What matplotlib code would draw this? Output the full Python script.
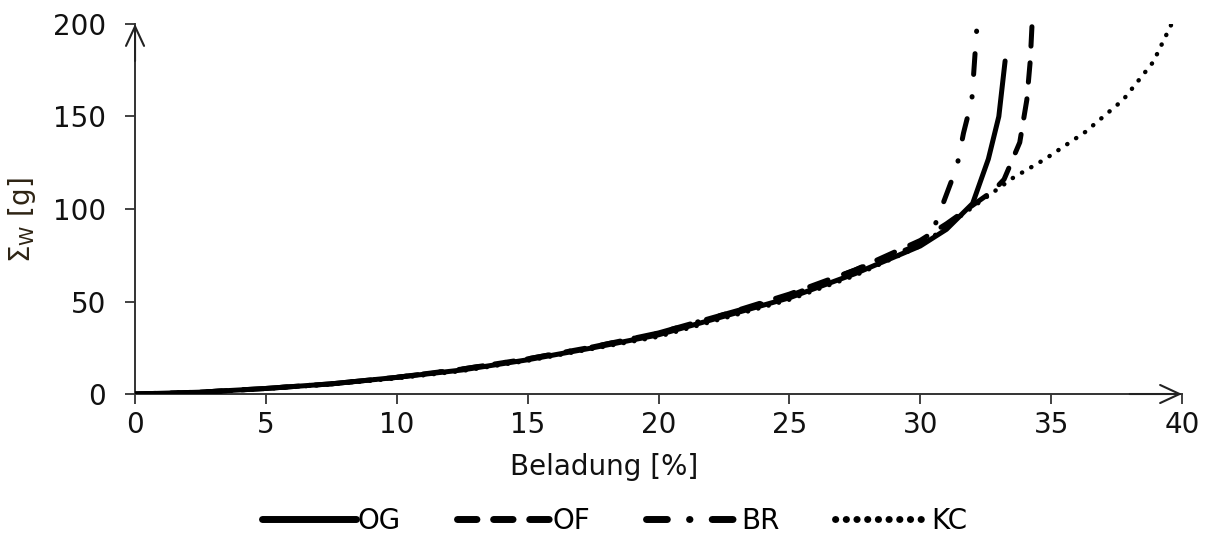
import matplotlib
matplotlib.use("Agg")
import matplotlib.pyplot as plt

# ── Data ──────────────────────────────────────────────────────────────────────
og_x = [0, 2.5, 5, 7.5, 10, 12.5, 15, 17.5, 20, 22.5, 25, 27.5, 30, 31, 32, 32.6, 33.0, 33.24]
og_y = [0, 1, 3, 5.5, 9, 13, 18.5, 25, 32, 42, 52, 65, 80, 89, 103, 127, 150, 180]

of_x = [0, 2.5, 5, 7.5, 10, 12.5, 15, 17.5, 20, 22.5, 25, 27.5, 30, 31, 32, 32.8, 33.2, 33.8, 34.07, 34.2, 34.27]
of_y = [0, 1, 3, 5.5, 9, 13.5, 19, 25.5, 33, 43, 54, 67, 83, 92, 102, 110, 116, 136, 159, 180, 200]

br_x = [0, 2.5, 5, 7.5, 10, 12.5, 15, 17.5, 20, 22.5, 25, 27.5, 30, 30.5, 30.95, 31.4, 31.65, 31.97, 32.17]
br_y = [0, 1, 3, 5.5, 9, 13.5, 19, 25.5, 33, 43, 53, 67, 81, 89, 106, 123, 141, 159, 200]

kc_x = [0, 2.5, 5, 7.5, 10, 12.5, 15, 17.5, 20, 22.5, 25, 27.5, 30, 32, 33.54, 34.77, 36.3, 37.75, 38.9, 39.6]
kc_y = [0, 0.8, 2.8, 5.2, 8.5, 12.5, 18, 24.5, 31, 41, 51, 64, 80, 101, 116.8, 127, 141.6, 159, 179.5, 200]

x_ticks = [0, 5, 10, 15, 20, 25, 30, 35, 40]
y_ticks = [0, 50, 100, 150, 200]

# ── Style ─────────────────────────────────────────────────────────────────────
plt.rcParams["font.family"] = ["DejaVu Sans"]
plt.rcParams["mathtext.fontset"] = "dejavusans"
plt.rcParams["lines.scale_dashes"] = False

FS = 20
INK = "#111111"

fig = plt.figure(figsize=(12.1, 5.39), dpi=100)
ax = fig.add_axes([0.1116, 0.269, 0.8653, 0.6865])

ax.plot(og_x, og_y, color="black", lw=3.6, solid_capstyle="round", label="OG")
ax.plot(of_x, of_y, color="black", lw=3.6, dashes=(14, 12), dash_capstyle="round", label="OF")
ax.plot(br_x, br_y, color="black", lw=3.6, dashes=(15, 16, 0.3, 16), dash_capstyle="round", label="BR")
ax.plot(kc_x, kc_y, color="black", lw=3.2, dashes=(0.2, 7.5), dash_capstyle="round", label="KC")

ax.set_xlim(0, 40)
ax.set_ylim(0, 200)
ax.set_xticks(x_ticks)
ax.set_yticks(y_ticks)
ax.tick_params(labelsize=FS, labelcolor=INK, length=7, width=1.3, color="#333333")
ax.tick_params(axis="y", pad=14)
ax.tick_params(axis="x", pad=5)

for side in ["top", "right"]:
    ax.spines[side].set_visible(False)
for side in ["left", "bottom"]:
    ax.spines[side].set_linewidth(1.4)
    ax.spines[side].set_color("#333333")
    ax.spines[side].set_zorder(0)

# open arrow heads on the axis ends
arrow = dict(arrowstyle="->,head_length=1.4,head_width=0.65", lw=1.5, color="#222222",
             shrinkA=0, shrinkB=0)
ax.annotate("", xy=(0, 1.0), xytext=(0, 0.9), xycoords="axes fraction", arrowprops=arrow,
            annotation_clip=False)
ax.annotate("", xy=(1.0, 0), xytext=(0.95, 0), xycoords="axes fraction", arrowprops=arrow,
            annotation_clip=False)

ax.set_xlabel("Beladung [%]", fontsize=FS, color=INK)
ax.xaxis.set_label_coords(0.448, -0.16)
ax.set_ylabel(r"$\mathregular{\Sigma_W}$ [g]", fontsize=FS, color="#2e2414")
ax.yaxis.set_label_coords(-0.093, 0.47)

leg = fig.legend(loc="center", bbox_to_anchor=(0.508, 0.033), ncol=4, frameon=False,
                 fontsize=FS, handlelength=3.4, handletextpad=0.05, columnspacing=2.0)
for line in leg.get_lines():
    line.set_linewidth(5)

fig.savefig("out.png", dpi=100)
